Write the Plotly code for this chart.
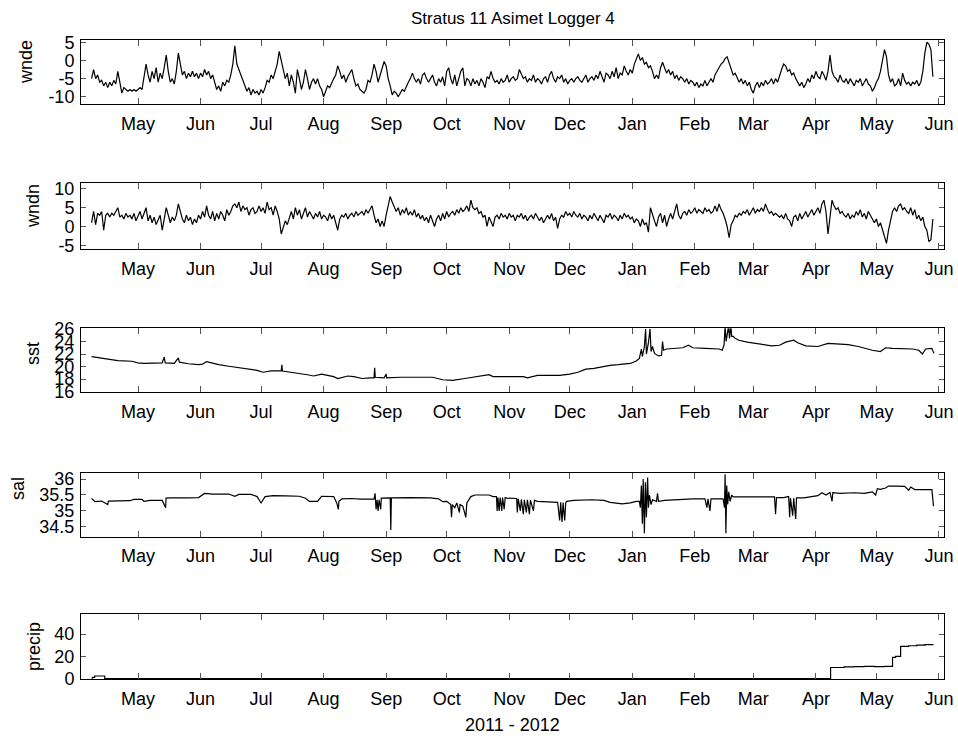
import pandas as pd
import plotly.graph_objects as go

# ---------------- data ----------------
BASE = pd.Timestamp("2011-04-01")
WIND_START_DAY = 7  # first daily sample (days after BASE)

wnde = [
    -5, -2.5, -5, -4, -6, -5.5, -7, -6, -7.5, -6,
    -7, -5.5, -6.5, -3, -6, -9, -7.5, -8, -8.5, -8,
    -8.5, -8, -8.5, -8, -7.5, -8, -5, -1, -4, -6,
    -3, -5, -2, -6, -3.5, -5, -2, 1.5, -3, -6,
    -5, -6.5, -3, 2, -1, -4, -3, -5, -3.5, -4.5,
    -3, -4.5, -3.5, -5, -3.5, -4.5, -2.5, -4, -3, -5,
    -4, -6, -8, -7, -8.5, -6, -7, -5.5, -6, -4,
    -1, 4, -1, -2.5, -4, -6, -7, -8.5, -7.5, -9.5,
    -8, -9, -8.5, -9.5, -8, -9, -7.5, -5.5, -6, -4,
    -5, -3, -1, 2.5, 0, -3, -5, -3.5, -7, -4,
    -6, -9, -2.5, -5, -8, -6, -2.5, -5, -8, -6,
    -5, -6.5, -5, -7, -8, -10, -8.5, -7, -7.5, -6,
    -5, -4, -1.5, -3, -5, -4, -6, -4.5, -3.5, -2.5,
    -5, -7, -6.5, -8, -8.5, -9, -8, -5.5, -6, -4,
    -1, -3, -6, -4, -2, -0.3, -1.5, -5, -7, -9.5,
    -8.5, -9, -10, -9, -8, -8.5, -7, -6, -5, -3.5,
    -5, -6, -5, -6.5, -4, -3.5, -5, -6, -5, -4,
    -6, -7, -5, -6, -4.5, -7, -3, -2, -5, -6.5,
    -4, -7, -5, -3, -2, -7, -5, -5.5, -7, -5,
    -6.5, -5.5, -7, -5, -6, -7.5, -4.5, -5, -3, -5,
    -6, -5.5, -6.5, -5, -6, -5.5, -4, -6, -5, -4.5,
    -5.5, -5, -2.5, -4, -5, -4.5, -6, -5, -5.5, -4,
    -6, -5, -5.5, -6.5, -5, -4.5, -6, -4, -3, -5,
    -6, -4.5, -5, -4, -6, -5, -6.5, -5.5, -5, -6,
    -5, -4.5, -5.5, -6, -5, -4, -6, -5, -4.5, -5.5,
    -4, -5, -3, -4.5, -6, -3.5, -4, -5, -3, -4.5,
    -2, -5, -3.5, -4, -1.5, -3, -4, -2.5, -3.5, -1,
    0.5, 1.8, 0, 0.8, -1, -0.5, -2, -1.5, -3, -5,
    -4, -5, -2, -0.5, -2, -3.5, -2.5, -4, -3, -5,
    -4, -5.5, -4.5, -5, -6, -5, -6.5, -5.5, -6, -7,
    -6, -7.5, -6.5, -7, -5.5, -7, -6, -5, -6, -4,
    -3, -2, -1, -0.5, 0.5, 1, -0.5, -2, -4, -3.5,
    -5, -6, -5, -6.5, -5.5, -7, -6, -8, -9, -7,
    -6, -7.5, -6, -7, -5.5, -6.5, -6, -5, -6.5, -5,
    -6, -4, -2.5, -1, -1.5, -3, -2.5, -4, -3.5, -5,
    -6, -7, -6, -7.5, -6.5, -5, -6, -4, -5, -3,
    -4.5, -5, -3, -4, -5.5, -3, 1.5, -3, -4.5, -5,
    -6, -4, -5.5, -6, -5, -6.5, -5, -6, -7, -5.5,
    -6, -5, -7, -6, -5, -6.5, -7, -8.5, -7.5, -6,
    -5, -3, 0, 3, 1, -4, -6, -5, -7, -6.5,
    -5, -7, -3.5, -5.5, -6.5, -6, -7, -6, -6.5, -5.5,
    -7, -6, -3, 2, 5, 4.5, 3, -4.5,
]

wndn = [
    1, 4, 0.5, 3.5, 3, 4, -1, 3, 3.5, 2.5,
    3.5, 3, 4, 5, 2.5, 3, 2, 3.5, 2.5, 3,
    2, 3.5, 1.5, 3, 4, 2, 3.5, 5, 1.5, 3,
    1, 2.5, 0.5, 2, 3, -1, 2, 5, 3, 1,
    2.5, 1.5, 3, 6, 4, 2, 1, 3, 1.5, 2.5,
    0.5, 2, 1, 3, 2, 4, 2.5, 5.5, 3, 2,
    4, 1.5, 3.5, 2, 4, 3, 1.5, 4.5, 3, 4,
    5.5, 6, 5, 6.5, 4, 5.5, 4.5, 5, 3, 4.5,
    5, 3.5, 4, 5.5, 4, 5, 3.5, 6.5, 4.5, 5,
    3, 5.5, 4, 2, -2, 0, 1.5, 0.5, 2.5, 4,
    2, 5, 3, 4.5, 2, 3.5, 5, 2.5, 4, 3,
    2, 3.5, 2.5, 4, 2, 3, 2.5, 1.5, 3.5, 2,
    3, 1, -1, 2, 3, 2.5, 3.5, 2, 3, 3.5,
    2.5, 4, 3, 3.5, 4, 3, 4.5, 3.5, 4.5, 5.5,
    3, 1, 2, 0, 1.5, 0, 3, 6, 8, 6.5,
    5, 4, 5, 3, 4.5, 3.5, 5, 3, 4, 3,
    4.5, 2.5, 3.5, 2, 3, 1.5, 2.5, 1, 3, 1.5,
    0, 2, 3, 1.5, 3.5, 2, 4, 2.5, 3.5, 4,
    3, 4.5, 3.5, 5, 4, 4.5, 5.5, 4, 7, 5,
    4.5, 5, 3.5, 4, 2.5, 3, 0, 2.5, 1, 0,
    2.5, 3, 2, 3.5, 2.5, 3, 2, 3.5, 2.5, 3,
    1.5, 3, 2.5, 3.5, 2, 3, 1.5, 2.5, 3, 2,
    3.5, 2.5, 1.5, 2.5, 1, 2, 3, 2, 3.5, 1.5,
    2.5, -0.5, 2, 3, 2.5, 4, 3, 3.5, 2.5, 4,
    3, 2.5, 3.5, 2, 3, 2.5, 1.5, 3, 2, 3.5,
    2.5, 1.5, 3, 2, 1, 3, 2.5, 3.5, 2, 3,
    2.5, 1.5, 3, 2, 3.5, 2.5, 3, 2, 2.5, 1,
    2, 1.5, 0, 2, 0.5, 1, -1.5, 5, 3, 1.5,
    0, 2.5, 3.5, 1, 3, 0, 2, 3.5, 2, 4,
    6, 3, 2, 3.5, 4, 3, 4.5, 3.5, 4, 5,
    3.5, 4.5, 4, 3.5, 5, 4, 4.5, 3.5, 4, 5.5,
    4, 6, 4.5, 3.5, 2, 0, -3, 0.5, 1.5, 3,
    2.5, 3.5, 3, 4, 3.5, 4.5, 3, 4, 5, 3.5,
    4.5, 4, 5, 4, 6, 4.5, 3.5, 4, 3, 3.5,
    3, 2.5, 3, 2, 3.5, 2, 1.5, 0, 2.5, 3,
    1.5, 3.5, 2, 3, 4, 2.5, 3.5, 4.5, 3, 4,
    5, 3.5, 6, 7, 4, -2, 3, 7, 5.5, 4.5,
    5, 3.5, 4, 3, 2.5, 3.5, 2, 3, 2.5, 4,
    3, 4.5, 2.5, 3.5, 2, 4, 3, 2, 1, 2,
    0, 1, -1, -3, -4.5, -1, 2, 4, 5, 4,
    5.5, 6, 4.5, 5, 4, 3.5, 5, 3, 4.5, 2,
    3, 1.5, 2.5, 0, -1, -4, -3.5, 2,
]

sst_days = [7, 9, 12, 16, 20, 27, 30, 33, 38, 42, 43, 43.5, 48, 50, 50.5, 55, 60, 62, 64, 66,
            70, 75, 80, 85, 89, 92, 96, 101, 101.3, 101.6, 106, 110, 114, 117, 119, 121, 124,
            127, 129, 130, 134, 137, 141, 145, 147, 147.3, 147.6, 152, 153, 153.3, 160, 168,
            176, 181, 186, 192, 199, 204, 206, 215, 221, 223, 228, 239, 244, 248, 252, 256,
            261, 264, 268, 274, 277, 278.5, 279.5, 280, 281, 281.6, 282, 283, 283.8, 284.3,
            285, 286, 288, 289.5, 290, 290.5, 292, 296, 300, 302.8, 305, 311, 318, 319.6,
            320.5, 321, 321.5, 322, 322.7, 323.2, 323.8, 324.3, 325, 326, 327.8, 332, 336,
            344, 348, 351, 355, 357, 361, 367, 372, 377, 382, 387, 394, 398, 400.5, 404, 409,
            414, 417, 418.8, 420.4, 423.5, 424.5]
sst = [21.6, 21.5, 21.3, 21.1, 20.95, 20.85, 20.6, 20.5, 20.55, 20.6, 21.5, 20.6, 20.5, 21.4,
       20.7, 20.45, 20.3, 20.4, 20.8, 20.6, 20.3, 20.05, 19.8, 19.6, 19.4, 19.1, 19.3, 19.3,
       20.3, 19.3, 19.1, 19.0, 18.7, 18.5, 18.6, 18.8, 18.6, 18.4, 18.1, 18.2, 18.5, 18.4,
       18.1, 18.2, 18.2, 19.8, 18.3, 18.2, 18.8, 18.2, 18.3, 18.3, 18.3, 17.9, 17.8, 18.1,
       18.4, 18.7, 18.4, 18.4, 18.4, 18.2, 18.6, 18.6, 18.8, 19.1, 19.6, 19.7, 20.0, 20.2,
       20.3, 20.5, 20.9, 21.3, 22.8, 21.6, 23.2, 26.0, 22.0, 23.8, 26.0, 22.4, 23.2, 22.1,
       21.7, 21.8, 24.0, 22.6, 22.8, 22.9, 23.0, 23.4, 23.0, 22.9, 22.8, 22.6, 23.5, 26.5,
       24.0, 25.0, 26.5, 24.5, 26.5, 24.8, 24.8, 24.5, 24.2, 23.9, 23.7, 23.3, 23.4, 23.9,
       24.2, 23.8, 23.3, 23.2, 23.7, 23.6, 23.5, 23.2, 22.6, 22.4, 23.0, 22.9, 22.9, 22.8,
       22.6, 22.0, 22.8, 22.9, 22.1]

sal_days = [7, 8.7, 12, 15, 15.3, 20, 26, 28, 32, 33, 36, 42, 43.7, 43.9, 46, 55, 60, 63, 67,
            75, 78, 80, 86, 89, 91, 93, 97, 103, 110, 113, 115, 119, 121, 127, 128.5, 129.3,
            129.6, 131, 136, 140, 147, 147.5, 148, 148.5, 149, 149.5, 150.3, 150.6, 152, 155,
            155.3, 155.6, 165, 175, 179, 181, 183, 185, 185.4, 185.8, 187, 188, 189.3, 189.6,
            191, 192.5, 193, 195, 197, 204, 206, 207.7, 208, 208.4, 209, 209.5, 210.3, 210.7,
            211.5, 212, 212.7, 217, 217.7, 218, 218.5, 219.5, 220, 221, 221.5, 222.5, 223, 224,
            224.5, 226, 226.5, 228, 234, 238, 239, 239.5, 240.2, 240.7, 241.5, 242, 242.5, 246,
            255, 261, 264, 270, 274, 277, 278.5, 279, 279.5, 280, 280.4, 281, 281.5, 282, 282.6,
            283, 283.5, 284.3, 285, 287, 287.5, 288, 291, 296, 300, 305, 311, 312, 312.5, 313.5,
            314, 318, 320, 320.7, 321, 321.4, 321.8, 322.3, 322.8, 323.5, 324.3, 325, 330, 338,
            344, 345.5, 346, 346.5, 350, 352.5, 353, 353.4, 354.5, 355, 356, 356.4, 360, 364,
            367, 369, 371, 373, 374, 374.4, 378, 385, 390, 394, 395.6, 396.5, 398, 400.5, 402,
            406, 410, 412, 413, 415, 420, 423.5, 424.3]
sal = [35.39, 35.29, 35.31, 35.2, 35.31, 35.31, 35.32, 35.36, 35.36, 35.3, 35.33, 35.33, 35.1,
       35.4, 35.41, 35.41, 35.42, 35.55, 35.53, 35.53, 35.46, 35.52, 35.52, 35.45, 35.25, 35.45,
       35.48, 35.47, 35.46, 35.4, 35.3, 35.3, 35.46, 35.45, 35.25, 35.05, 35.3, 35.38, 35.39,
       35.37, 35.37, 35.55, 35.05, 35.35, 35.0, 35.35, 35.05, 35.4, 35.41, 35.41, 34.4, 35.41,
       35.42, 35.41, 35.38, 35.29, 35.3, 35.2, 34.8, 35.2, 35.1, 35.25, 34.95, 35.2, 35.15,
       34.8, 35.25, 35.45, 35.5, 35.5, 35.45, 35.45, 35.0, 35.42, 35.0, 35.42, 35.0, 35.42,
       35.05, 35.42, 35.4, 35.39, 35.39, 34.95, 35.38, 35.0, 35.36, 34.9, 35.35, 34.95, 35.35,
       34.9, 35.34, 35.0, 35.33, 35.3, 35.28, 35.27, 34.7, 35.27, 34.65, 35.26, 34.7, 35.26,
       35.3, 35.33, 35.35, 35.33, 35.27, 35.22, 35.25, 35.3, 35.3, 35.1, 35.8, 34.6, 36.0,
       34.3, 35.9, 34.8, 36.05, 35.1, 35.5, 35.2, 35.35, 35.3, 35.55, 35.3, 35.33, 35.35,
       35.37, 35.38, 35.38, 35.1, 35.38, 35.0, 35.38, 35.39, 35.38, 35.1, 36.15, 34.3, 35.8,
       35.2, 35.6, 35.3, 35.5, 35.44, 35.44, 35.43, 35.44, 35.44, 34.9, 35.42, 35.42, 35.45,
       34.8, 35.4, 34.85, 35.4, 34.75, 35.41, 35.41, 35.45, 35.48, 35.57, 35.5, 35.58, 35.3,
       35.57, 35.55, 35.57, 35.55, 35.6, 35.5, 35.7, 35.68, 35.72, 35.78, 35.78, 35.77, 35.65,
       35.75, 35.67, 35.67, 35.67, 35.15]

precip_days = [7, 7.5, 8.5, 12.5, 13.5, 373, 373.3, 380, 385, 390, 395, 400, 403.8, 404,
               405.5, 407.5, 408, 412, 416, 420, 424]
precip = [0.5, 1.2, 2.4, 2.4, 0, 0, 10, 10.5, 10.8, 11, 10.8, 11, 11, 19, 20, 20, 29, 29.5,
          30, 30.5, 31]

month_ticks = pd.date_range("2011-05-01", "2012-06-01", freq="MS")
month_labels = [d.strftime("%b") for d in month_ticks]

panel_names = ["wnde", "wndn", "sst", "sal", "precip"]
panel_ticks = [[5, 0, -5, -10], [10, 5, 0, -5], [26, 24, 22, 20, 18, 16],
               [36, 35.5, 35, 34.5], [40, 20, 0]]

# ---------------- layout helpers ----------------
W, H = 958, 739
def px_x(p):
    return p / W
def px_y(p):
    return 1 - p / H

plot_left, plot_right = 81, 944
panel_px = [(40, 104), (183.3, 249), (328.3, 392.3), (472.7, 536.7), (614, 679.3)]
panel_ranges = [[-12.0, 5.63], [-6.0, 11.5], [15.9, 26.1], [34.19, 36.2], [-0.54, 57.9]]
label_pos = [(26, 62), (33, 206), (33, 354), (18, 489), (34, 647)]
x_range = ["2011-04-02 18:00", "2012-06-03 12:00"]

def to_dates(days):
    return BASE + pd.to_timedelta(days, unit="D")

series = [
    (to_dates(list(range(WIND_START_DAY, WIND_START_DAY + len(wnde)))), wnde, "linear"),
    (to_dates(list(range(WIND_START_DAY, WIND_START_DAY + len(wndn)))), wndn, "linear"),
    (to_dates(sst_days), sst, "linear"),
    (to_dates(sal_days), sal, "linear"),
    (to_dates(precip_days), precip, "hv"),
]

FONT = "Liberation Sans, Arial, sans-serif"
fig = go.Figure()
layout = dict(
    width=W, height=H, margin=dict(l=0, r=0, t=0, b=0, pad=0, autoexpand=False),
    paper_bgcolor="white", plot_bgcolor="white", showlegend=False,
    font=dict(family=FONT, size=18, color="black"),
)
annotations = []
for i, ((xd, yd, shape), name) in enumerate(zip(series, panel_names)):
    sfx = "" if i == 0 else str(i + 1)
    fig.add_trace(go.Scatter(
        x=xd, y=yd, mode="lines", line=dict(color="black", width=1.2, shape=shape),
        xaxis="x" + sfx, yaxis="y" + sfx, hoverinfo="skip",
    ))
    top, bot = panel_px[i]
    layout["xaxis" + sfx] = dict(
        domain=[px_x(plot_left), px_x(plot_right)], anchor="y" + sfx,
        range=x_range, type="date", automargin=False,
        tickvals=list(month_ticks), ticktext=month_labels,
        ticks="inside", ticklen=6, tickwidth=1, tickcolor="#555",
        mirror="ticks", showline=True, linecolor="black", linewidth=1,
        showgrid=False, zeroline=False, ticklabelstandoff=3,
        tickfont=dict(family=FONT, size=18, color="black"),
    )
    layout["yaxis" + sfx] = dict(
        domain=[px_y(bot), px_y(top)], anchor="x" + sfx,
        range=panel_ranges[i], tickvals=panel_ticks[i], automargin=False,
        ticktext=[f"{v:g}" for v in panel_ticks[i]],
        ticks="inside", ticklen=5, tickwidth=1, tickcolor="#555",
        mirror="ticks", showline=True, linecolor="black", linewidth=1,
        showgrid=False, zeroline=False, ticklabelstandoff=2,
        tickfont=dict(family=FONT, size=18, color="black"),
    )
    lx, ly = label_pos[i]
    annotations.append(dict(
        text=name, x=px_x(lx), y=px_y(ly), xref="paper", yref="paper",
        xanchor="center", yanchor="middle", textangle=-90, showarrow=False,
        font=dict(family=FONT, size=18, color="black"),
    ))

annotations.append(dict(
    text="Stratus 11 Asimet Logger 4", x=px_x(512.5), y=px_y(18.5), xref="paper", yref="paper",
    xanchor="center", yanchor="middle", showarrow=False,
    font=dict(family=FONT, size=17, color="black"),
))
annotations.append(dict(
    text="2011 - 2012", x=px_x(512.5), y=px_y(725), xref="paper", yref="paper",
    xanchor="center", yanchor="middle", showarrow=False,
    font=dict(family=FONT, size=18, color="black"),
))
layout["annotations"] = annotations
fig.update_layout(**layout)
fig.write_html(
    "out.html",
    config={"displayModeBar": False, "staticPlot": True},
    post_script="document.body.style.margin='0px';document.body.style.overflow='hidden';",
)
